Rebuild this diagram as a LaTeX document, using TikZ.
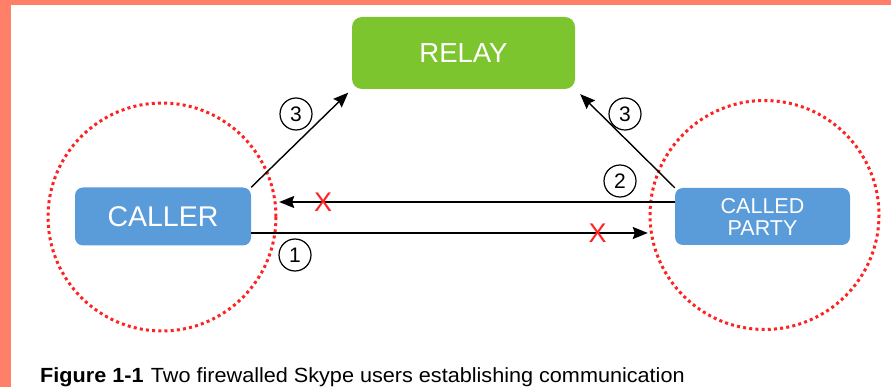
\documentclass[tikz,border=0pt]{standalone}
\usepackage{fontspec}
\setmainfont{Liberation Sans}
\usepackage{tikz}
\usetikzlibrary{arrows.meta}
\definecolor{frameorange}{HTML}{FF7F68}
\definecolor{relaygreen}{HTML}{7DC52E}
\definecolor{hostblue}{HTML}{5A9BDA}
\definecolor{fwred}{HTML}{FF2222}
\tikzset{
  hostbox/.style={fill=hostblue,rounded corners=8pt,text=white,inner sep=0pt,
    minimum width=176pt,minimum height=58pt},
  relaybox/.style={fill=relaygreen,rounded corners=10pt,text=white,inner sep=0pt,
    minimum width=223pt,minimum height=72pt,font=\fontsize{27.5}{28}\selectfont},
  stepnum/.style={circle,draw,line width=1.2pt,minimum size=32pt,inner sep=0pt,
    font=\fontsize{21}{21}\selectfont},
  blocked/.style={text=fwred,inner sep=0pt,font=\fontsize{27}{27}\selectfont},
  firewall/.style={draw=fwred,line width=3pt,dash pattern=on 3pt off 3.2pt},
  msg/.style={draw,->,line width=1.4pt,>={Stealth[length=15pt,width=12pt,inset=2pt]}},
}
\begin{document}
\begin{tikzpicture}[x=1pt,y=-1pt]
\useasboundingbox (0,0) rectangle (891,387);
\fill[frameorange] (0,0) rectangle (891,5);
\fill[frameorange] (0,0) rectangle (11,387);

\node[relaybox] (relay) at (463.5,53) {RELAY};
\node[hostbox,font=\fontsize{28.5}{29}\selectfont] (caller) at (163,216.5) {CALLER};
\node[hostbox,minimum width=175pt,minimum height=57pt,align=center,
  font=\fontsize{21.5}{22}\selectfont] (called) at (762.5,216.5) {CALLED\\PARTY};

\draw[firewall] (162,217) circle[radius=114];
\draw[firewall] (764.5,215) circle[radius=114.5];

\draw[msg,shorten >=5pt] (caller.north east) -- (relay.south west);
\draw[msg,shorten >=7pt] (called.north west) -- (relay.south east);
\draw[msg,shorten >=28pt] ([yshift=14.5pt]called.west) -- ([yshift=14.5pt]caller.east)
  node[blocked,pos=0.83] (x2) {X};
\draw[msg,shorten >=27pt] ([yshift=-16.5pt]caller.east) -- ([yshift=-16.5pt]called.west)
  node[blocked,pos=0.818] (x1) {X};

\node[stepnum] (s3a) at (296,114) {3};
\node[stepnum] (s3b) at (625,114) {3};
\node[stepnum] (s2) at (620,181) {2};
\node[stepnum] (s1) at (295,255) {1};

\node[anchor=base west,inner sep=0pt,font=\fontsize{20.5}{21}\selectfont] (cap) at (40,382)
  {\scalebox{1.055}[1]{\textbf{Figure 1-1}\hspace{7pt}Two firewalled Skype users establishing communication}};
\end{tikzpicture}
\end{document}
